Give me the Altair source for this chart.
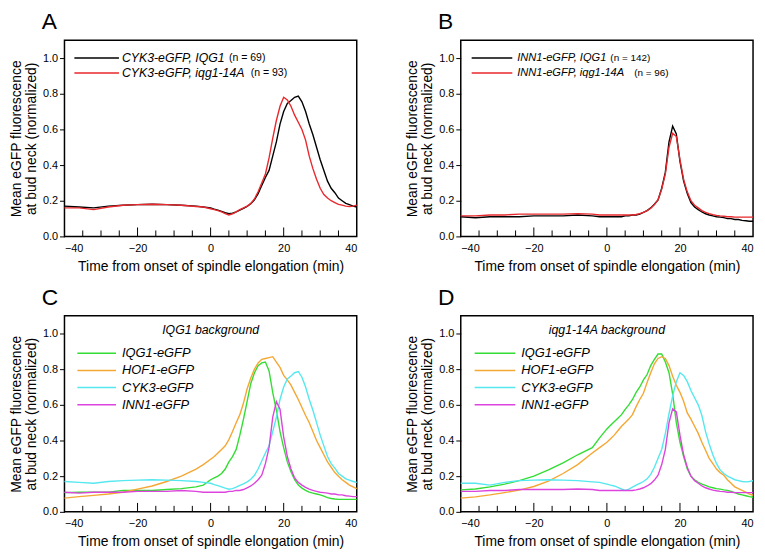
import altair as alt
import pandas as pd

# ---------------- data ----------------
T = [-40, -36, -32, -28, -24, -20, -16, -12, -8, -4, -2] + list(range(0, 41))

CYK3_IQG1 = [.17, .165, .16, .17, .175, .178, .18, .178, .175, .17, .165,
             .16, .153, .147, .14, .133, .127, .13, .138, .148, .157, .168, .183, .205, .24, .285,
             .33, .37, .45, .53, .63, .70, .745, .762, .78, .787, .755, .70, .63, .57, .50,
             .43, .37, .31, .27, .245, .215, .20, .185, .178, .17, .165]
CYK3_IQG14A = [.16, .16, .15, .165, .175, .178, .18, .178, .175, .168, .165,
               .155, .15, .145, .137, .128, .12, .127, .138, .15, .16, .17, .185, .21, .25, .30,
               .35, .44, .55, .65, .73, .78, .765, .73, .68, .64, .60, .54, .45, .38, .32,
               .27, .235, .215, .20, .19, .18, .175, .17, .168, .17, .175]
INN1_IQG1 = [.11, .105, .11, .11, .11, .115, .115, .115, .12, .115, .11,
             .11, .11, .11, .11, .11, .115, .115, .12, .12, .125, .135, .145, .16, .18, .205,
             .27, .36, .53, .618, .575, .42, .31, .24, .19, .165, .15, .137, .127, .12, .115,
             .11, .108, .105, .10, .10, .095, .095, .09, .088, .085, .085]
INN1_IQG14A = [.115, .115, .12, .12, .125, .125, .125, .125, .128, .125, .12,
               .12, .12, .12, .12, .12, .12, .12, .12, .123, .128, .135, .145, .158, .178, .205,
               .265, .35, .50, .578, .56, .43, .32, .25, .20, .175, .16, .145, .135, .128, .122,
               .118, .115, .113, .11, .11, .108, .108, .108, .108, .108, .108]
IQG1_C = [.108, .11, .11, .11, .12, .12, .12, .125, .13, .14, .15,
          .18, .19, .20, .215, .24, .28, .31, .35, .43, .52, .62, .72, .78, .82, .835,
          .84, .79, .67, .57, .45, .36, .28, .225, .18, .15, .133, .12, .11, .105, .10,
          .095, .088, .08, .075, .072, .07, .07, .07, .07, .07, .07]
HOF1_C = [.077, .085, .092, .10, .11, .127, .145, .17, .20, .24, .265,
          .295, .31, .33, .35, .37, .405, .45, .50, .545, .61, .69, .75, .80, .835, .855,
          .86, .865, .87, .84, .81, .765, .74, .71, .67, .63, .585, .54, .50, .45, .40,
          .36, .32, .28, .25, .22, .20, .18, .165, .15, .14, .13]
IQG1_D = [.123, .128, .14, .155, .175, .20, .235, .275, .32, .36, .415,
          .465, .485, .505, .525, .545, .575, .60, .63, .67, .70, .74, .77, .82, .855, .885,
          .885, .84, .78, .66, .50, .39, .31, .24, .20, .18, .165, .155, .148, .14, .135,
          .13, .127, .123, .12, .115, .108, .10, .095, .09, .085, .082]
HOF1_D = [.077, .084, .095, .108, .122, .142, .172, .215, .265, .33, .36,
          .39, .41, .43, .455, .48, .50, .52, .545, .59, .63, .665, .725, .78, .83, .86,
          .87, .86, .82, .76, .71, .67, .62, .555, .52, .48, .44, .39, .345, .30, .27,
          .24, .22, .205, .18, .16, .14, .13, .12, .11, .10, .093]

Y_TICKS = [0.0, 0.2, 0.4, 0.6, 0.8, 1.0]
X_LABELS = [-40, -20, 0, 20, 40]
X_MINOR = [-35, -30, -25, -15, -10, -5, 5, 10, 15, 25, 30, 35]
X_MAJOR = [-20, 0, 20]

BLACK, RED = "#000000", "#e8282c"
GREEN, ORANGE, CYAN, MAGENTA = "#33dd33", "#f5a733", "#55e8ef", "#dd44dd"

W, H = 295, 198
FONT = "Liberation Sans"


def panel(series, letter, legend, note=None, lx=(10, 55), tx=58, rows=(18, 33),
          fsize=12.4, nsize=10.6, dx=-23):
    names = [letter + s[0] for s in series]
    cols = [s[2] for s in series]
    df = pd.concat([pd.DataFrame({"t": T, "y": s[1], "s": letter + s[0]}) for s in series])
    xs = alt.Scale(domain=[-40, 40], nice=False, zero=False)
    ys = alt.Scale(domain=[0, 1.1], nice=False, zero=False)
    lines = alt.Chart(df).mark_line(strokeWidth=1.4).encode(
        x=alt.X("t:Q", scale=xs,
                axis=alt.Axis(values=X_LABELS, ticks=False, domain=False, grid=False,
                              labelPadding=6, title="Time from onset of spindle elongation (min)",
                              titlePadding=6)),
        y=alt.Y("y:Q", scale=ys,
                axis=alt.Axis(values=Y_TICKS, format=".1f", grid=False, domain=False,
                              tickSize=5, tickColor="black", labelPadding=2,
                              title=["Mean eGFP fluorescence", "at bud neck (normalized)"],
                              titleLineHeight=15, titlePadding=4)),
        color=alt.Color("s:N", scale=alt.Scale(domain=names, range=cols), legend=None),
        order=alt.Order("t:Q"),
    )
    minor = alt.Chart(pd.DataFrame({"t": X_MINOR})).mark_rule(color="black", strokeWidth=1).encode(
        x=alt.X("t:Q", scale=xs), y=alt.value(H), y2=alt.value(H - 6))
    major = alt.Chart(pd.DataFrame({"t": X_MAJOR})).mark_rule(color="black", strokeWidth=1).encode(
        x=alt.X("t:Q", scale=xs), y=alt.value(H), y2=alt.value(H - 9))
    layers = [lines, minor, major]
    one = alt.Data(values=[{"a": 1}])
    for i, (lab, extra, color) in enumerate(legend):
        yy = rows[i]
        layers.append(alt.Chart(one).mark_rule(color=color, strokeWidth=1.5).encode(
            x=alt.value(lx[0]), x2=alt.value(lx[1]), y=alt.value(yy)))
        layers.append(alt.Chart(one).mark_text(
            text=lab, align="left", baseline="middle", font=FONT, fontStyle="italic",
            fontSize=fsize, color="black").encode(x=alt.value(tx), y=alt.value(yy)))
        if extra:
            layers.append(alt.Chart(one).mark_text(
                text=extra[0], align="left", baseline="middle", font=FONT,
                fontSize=nsize, color="black").encode(x=alt.value(extra[1]), y=alt.value(yy)))
    if note:
        layers.append(alt.Chart(one).mark_text(
            text=note, align="center", baseline="middle", font=FONT, fontStyle="italic",
            fontSize=12.4, color="black").encode(x=alt.value(W / 2), y=alt.value(14)))
    return alt.layer(*layers).properties(
        width=W, height=H,
        title=alt.TitleParams(letter, anchor="start", frame="group", fontSize=23,
                              fontWeight="normal", font=FONT, dx=dx, offset=6, color="black"))


pA = panel([("a", CYK3_IQG1, BLACK), ("b", CYK3_IQG14A, RED)], "A",
           [("CYK3-eGFP, IQG1", ("(n = 69)", 166), BLACK),
            ("CYK3-eGFP, iqg1-14A", ("(n = 93)", 188), RED)])
pB = panel([("a", INN1_IQG1, BLACK), ("b", INN1_IQG14A, RED)], "B",
           [("INN1-eGFP, IQG1", ("(n = 142)", 151), BLACK),
            ("INN1-eGFP, iqg1-14A", ("(n = 96)", 175), RED)], lx=(11, 52), tx=57,
           fsize=11.2, nsize=10)
pC = panel([("g", IQG1_C, GREEN), ("o", HOF1_C, ORANGE), ("c", CYK3_IQG1, CYAN),
            ("m", INN1_IQG1, MAGENTA)], "C",
           [("IQG1-eGFP", None, GREEN), ("HOF1-eGFP", None, ORANGE),
            ("CYK3-eGFP", None, CYAN), ("INN1-eGFP", None, MAGENTA)],
           note="IQG1 background", lx=(13, 52), tx=58, rows=(38, 55.3, 72.6, 90), fsize=13)
pD = panel([("g", IQG1_D, GREEN), ("o", HOF1_D, ORANGE), ("c", CYK3_IQG14A, CYAN),
            ("m", INN1_IQG14A, MAGENTA)], "D",
           [("IQG1-eGFP", None, GREEN), ("HOF1-eGFP", None, ORANGE),
            ("CYK3-eGFP", None, CYAN), ("INN1-eGFP", None, MAGENTA)],
           note="iqg1-14A background", lx=(14, 55), tx=61, rows=(38, 55.3, 72.6, 90), fsize=13)

chart = alt.vconcat(
    alt.hconcat(pA, pB, spacing=44).resolve_scale(color="independent"),
    alt.hconcat(pC, pD, spacing=44).resolve_scale(color="independent"),
    spacing=12,
).resolve_scale(color="independent").properties(
    padding={"left": 0, "top": 0, "right": 0, "bottom": 0}, background="white"
).configure_view(stroke="black", strokeWidth=1.5
).configure_axis(labelFont=FONT, titleFont=FONT, labelFontSize=11, titleFontSize=14,
                 labelColor="black", titleColor="black", titleFontWeight="normal")

chart.save("out.html", embed_options={"renderer": "svg", "actions": False})
